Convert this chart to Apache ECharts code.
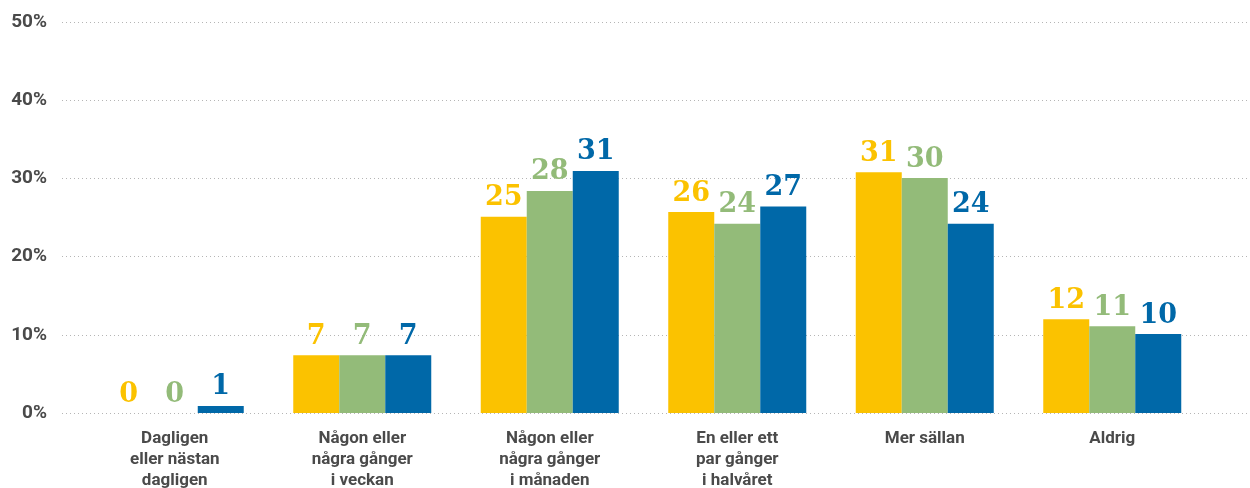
<!DOCTYPE html>
<html>
<head>
<meta charset="utf-8">
<script src="https://cdn.jsdelivr.net/npm/echarts@6/dist/echarts.min.js"></script>
<style>
  html, body { margin: 0; padding: 0; background: #fff; }
  #chart { width: 1250px; height: 488px; }
</style>
</head>
<body>
<div id="chart"></div>
<script>
const categories = [
  'Dagligen\neller nästan\ndagligen',
  'Någon eller\nnågra gånger\ni veckan',
  'Någon eller\nnågra gånger\ni månaden',
  'En eller ett\npar gånger\ni halvåret',
  'Mer sällan',
  'Aldrig'
]
// bar heights (percent)
const yellowValues = [0, 7.4, 25.1, 25.7, 30.8, 12.0]
const greenValues = [0, 7.4, 28.4, 24.2, 30.05, 11.1]
const blueValues = [0.9, 7.4, 30.95, 26.4, 24.2, 10.1]
// printed labels
const yellowLabels = [0, 7, 25, 26, 31, 12]
const greenLabels = [0, 7, 28, 24, 30, 11]
const blueLabels = [1, 7, 31, 27, 24, 10]

const colors = ['#FBC200', '#93BB79', '#0068A8']
const textColor = '#4a4a4a'

const makeSeries = (values, labels, color) => ({
  type: 'bar',
  xAxisIndex: 1,
  yAxisIndex: 1,
  data: values,
  barWidth: 46,
  barGap: '0%',
  itemStyle: { color },
  label: {
    show: true,
    position: 'top',
    distance: 5,
    color,
    fontFamily: 'DejaVu Serif',
    fontWeight: 'bold',
    fontSize: 27,
    formatter: (p) => labels[p.dataIndex],
  },
})

const chart = echarts.init(document.getElementById('chart'), null, { renderer: 'canvas' })
chart.setOption({
  animation: false,
  grid: [
    { left: 62, right: 0, top: 22, bottom: 75, outerBoundsMode: 'none' },
    { left: 81, right: 44, top: 22, bottom: 75, outerBoundsMode: 'none' },
  ],
  xAxis: [
    { type: 'value', gridIndex: 0, show: false, min: 0, max: 1 },
    {
      type: 'category',
      gridIndex: 1,
      data: categories,
      axisLine: { show: false },
      axisTick: { show: false },
      axisLabel: {
        margin: 15,
        color: textColor,
        fontFamily: 'Roboto',
        fontWeight: 'bold',
        fontSize: 17,
        lineHeight: 21,
        interval: 0,
      },
    },
  ],
  yAxis: [
    {
      type: 'value',
      gridIndex: 0,
      min: 0,
      max: 50,
      interval: 10,
      axisLine: { show: false },
      axisTick: { show: false },
      axisLabel: {
        margin: 15,
        color: textColor,
        fontFamily: 'Roboto',
        fontWeight: 'bold',
        fontSize: 19,
        formatter: '{value}%',
      },
      splitLine: { lineStyle: { color: '#b5b5b5', type: [1, 3], width: 1 } },
    },
    { type: 'value', gridIndex: 1, min: 0, max: 50, interval: 10, show: false, splitLine: { show: false } },
  ],
  series: [
    makeSeries(yellowValues, yellowLabels, colors[0]),
    makeSeries(greenValues, greenLabels, colors[1]),
    makeSeries(blueValues, blueLabels, colors[2]),
  ],
})
</script>
</body>
</html>
